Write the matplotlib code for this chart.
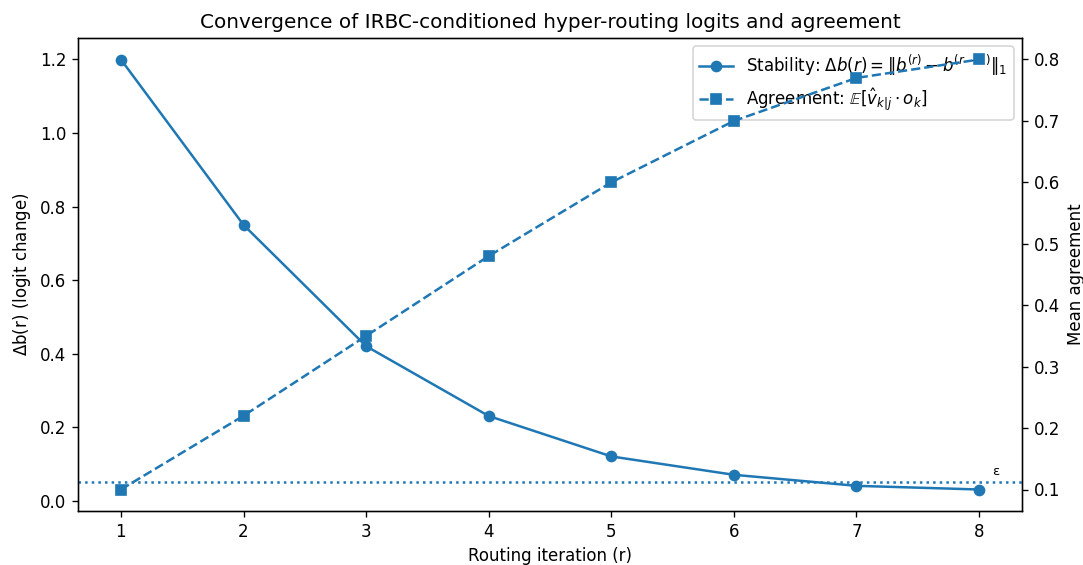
import matplotlib.pyplot as plt
import numpy as np

iterations = [1, 2, 3, 4, 5, 6, 7, 8]
stability = [1.20, 0.75, 0.42, 0.23, 0.12, 0.07, 0.04, 0.03]
agreement = [0.10, 0.22, 0.35, 0.48, 0.60, 0.70, 0.77, 0.80]
epsilon = 0.05

W, H = 1083, 565
fig, ax1 = plt.subplots(figsize=(W / 120, H / 120), dpi=120)
ax2 = ax1.twinx()

l1, = ax1.plot(iterations, stability, marker='o', linestyle='-', color='C0',
               label=r'Stability: $\Delta b(r) = \|b^{(r)} - b^{(r-1)}\|_1$')
l2, = ax2.plot(iterations, agreement, marker='s', linestyle='--', color='C0',
               label=r'Agreement: $\mathbb{E}[\hat{v}_{k|j} \cdot o_k]$')
ax1.axhline(epsilon, linestyle=':', color='C0')
ax1.text(iterations[-1] + 0.11, epsilon + 0.02, 'ε', fontsize=8)

ax1.set_xlabel('Routing iteration (r)')
ax1.set_ylabel(r'$\Delta$b(r) (logit change)')
ax2.set_ylabel('Mean agreement')
ax1.set_title('Convergence of IRBC-conditioned hyper-routing logits and agreement')
ax1.legend(handles=[l1, l2], loc='upper right')

fig.subplots_adjust(left=78 / W, right=1022 / W, top=1 - 38 / H, bottom=1 - 511 / H)
fig.savefig('out.png')
